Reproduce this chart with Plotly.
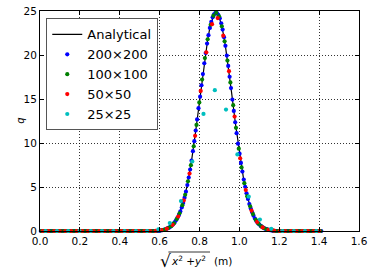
import plotly.graph_objects as go

# ---------------- data ----------------
analytical_x = [0.0, 0.56, 0.58, 0.60, 0.62, 0.64, 0.66, 0.68, 0.70, 0.72, 0.74, 0.76,
                0.78, 0.80, 0.82, 0.83, 0.84, 0.85, 0.86, 0.87, 0.88, 0.89, 0.90, 0.91,
                0.92, 0.93, 0.94, 0.95, 0.96, 0.98, 1.00, 1.02, 1.04, 1.06, 1.08, 1.10,
                1.12, 1.14, 1.16, 1.18, 1.20, 1.414]
analytical_q = [0, 0, 0.02, 0.06, 0.14, 0.30, 0.59, 1.13, 2.01, 3.38, 5.35, 7.97,
                11.19, 14.79, 18.42, 20.09, 21.59, 22.86, 23.84, 24.49, 24.78, 24.71, 24.27, 23.48,
                22.38, 21.01, 19.44, 17.71, 15.90, 12.25, 8.88, 6.07, 3.90, 2.37, 1.35, 0.73,
                0.37, 0.17, 0.08, 0.03, 0, 0]

r_200 = [0.004, 0.011, 0.018, 0.025, 0.032, 0.039, 0.046, 0.053, 0.060, 0.067,
         0.074, 0.081, 0.088, 0.095, 0.103, 0.110, 0.117, 0.124, 0.131, 0.138,
         0.145, 0.152, 0.159, 0.166, 0.173, 0.180, 0.187, 0.194, 0.202, 0.209,
         0.216, 0.223, 0.230, 0.237, 0.244, 0.251, 0.258, 0.265, 0.272, 0.279,
         0.286, 0.293, 0.301, 0.308, 0.315, 0.322, 0.329, 0.336, 0.343, 0.350,
         0.357, 0.364, 0.371, 0.378, 0.385, 0.392, 0.400, 0.407, 0.414, 0.421,
         0.428, 0.435, 0.442, 0.449, 0.456, 0.463, 0.470, 0.477, 0.484, 0.491,
         0.499, 0.506, 0.513, 0.520, 0.527, 0.534, 0.541, 0.548, 0.555, 0.562,
         0.569, 0.576, 0.583, 0.590, 0.598, 0.605, 0.612, 0.619, 0.626, 0.633,
         0.640, 0.647, 0.654, 0.661, 0.668, 0.675, 0.682, 0.689, 0.697, 0.704,
         0.711, 0.718, 0.725, 0.732, 0.739, 0.746, 0.753, 0.760, 0.767, 0.774,
         0.781, 0.788, 0.795, 0.803, 0.810, 0.817, 0.824, 0.831, 0.838, 0.845,
         0.852, 0.859, 0.866, 0.873, 0.880, 0.887, 0.894, 0.902, 0.909, 0.916,
         0.923, 0.930, 0.937, 0.944, 0.951, 0.958, 0.965, 0.972, 0.979, 0.986,
         0.993, 1.001, 1.008, 1.015, 1.022, 1.029, 1.036, 1.043, 1.050, 1.057,
         1.064, 1.071, 1.078, 1.085, 1.092, 1.100, 1.107, 1.114, 1.121, 1.128,
         1.135, 1.142, 1.149, 1.156, 1.163, 1.170, 1.177, 1.184, 1.191, 1.199,
         1.206, 1.213, 1.220, 1.227, 1.234, 1.241, 1.248, 1.255, 1.262, 1.269,
         1.276, 1.283, 1.291, 1.298, 1.305, 1.312, 1.319, 1.326, 1.333, 1.340,
         1.347, 1.354, 1.361, 1.368, 1.375, 1.382, 1.389, 1.397, 1.404, 1.411]
q_200 = [0, 0, 0, 0, 0, 0, 0, 0, 0, 0,
         0, 0, 0, 0, 0, 0, 0, 0, 0, 0,
         0, 0, 0, 0, 0, 0, 0, 0, 0, 0,
         0, 0, 0, 0, 0, 0, 0, 0, 0, 0,
         0, 0, 0, 0, 0, 0, 0, 0, 0, 0,
         0, 0, 0, 0, 0, 0, 0, 0, 0, 0,
         0, 0, 0, 0, 0, 0, 0, 0, 0, 0,
         0, 0, 0, 0, 0, 0, 0, 0, 0, 0,
         0, 0, 0, 0, 0, 0.07, 0.10, 0.13, 0.17, 0.23,
         0.30, 0.38, 0.49, 0.62, 0.78, 0.98, 1.21, 1.49, 1.83, 2.22,
         2.67, 3.19, 3.79, 4.47, 5.23, 6.07, 6.99, 7.99, 9.07, 10.21,
         11.42, 12.68, 13.96, 15.26, 16.56, 17.83, 19.06, 20.22, 21.30, 22.25,
         23.08, 23.76, 24.28, 24.62, 24.79, 24.76, 24.56, 24.17, 23.61, 22.89,
         22.02, 21.04, 19.94, 18.76, 17.53, 16.24, 14.94, 13.64, 12.36, 11.12,
         9.92, 8.79, 7.74, 6.75, 5.85, 5.03, 4.29, 3.64, 3.06, 2.55,
         2.12, 1.74, 1.42, 1.15, 0.92, 0.74, 0.58, 0.46, 0.36, 0.28,
         0.21, 0.16, 0.12, 0.09, 0.07, 0, 0, 0, 0, 0,
         0, 0, 0, 0, 0, 0, 0, 0, 0, 0,
         0, 0, 0, 0, 0, 0, 0, 0, 0, 0,
         0, 0, 0, 0, 0, 0, 0, 0, 0, 0]

r_100 = [0.007, 0.021, 0.035, 0.049, 0.064, 0.078, 0.092, 0.106, 0.120, 0.134,
         0.148, 0.163, 0.177, 0.191, 0.205, 0.219, 0.233, 0.247, 0.262, 0.276,
         0.290, 0.304, 0.318, 0.332, 0.346, 0.361, 0.375, 0.389, 0.403, 0.417,
         0.431, 0.445, 0.460, 0.474, 0.488, 0.502, 0.516, 0.530, 0.544, 0.559,
         0.573, 0.587, 0.601, 0.615, 0.629, 0.643, 0.658, 0.672, 0.686, 0.700,
         0.714, 0.728, 0.742, 0.757, 0.771, 0.785, 0.799, 0.813, 0.827, 0.841,
         0.856, 0.870, 0.884, 0.898, 0.912, 0.926, 0.940, 0.955, 0.969, 0.983,
         0.997, 1.011, 1.025, 1.039, 1.054, 1.068, 1.082, 1.096, 1.110, 1.124,
         1.138, 1.153, 1.167, 1.181, 1.195, 1.209, 1.223, 1.237, 1.252, 1.266,
         1.280, 1.294, 1.308, 1.322, 1.336, 1.351, 1.365, 1.379, 1.393, 1.407]
q_100 = [0, 0, 0, 0, 0, 0, 0, 0, 0, 0,
         0, 0, 0, 0, 0, 0, 0, 0, 0, 0,
         0, 0, 0, 0, 0, 0, 0, 0, 0, 0,
         0, 0, 0, 0, 0, 0, 0, 0, 0, 0,
         0, 0.03, 0.06, 0.11, 0.20, 0.34, 0.55, 0.87, 1.35, 2.01,
         2.93, 4.12, 5.64, 7.48, 9.63, 12.05, 14.61, 17.21, 19.65, 21.79,
         23.44, 24.47, 24.80, 24.39, 23.26, 21.55, 19.37, 16.88, 14.30, 11.73,
         9.36, 7.23, 5.43, 3.96, 2.80, 1.92, 1.27, 0.83, 0.52, 0.31,
         0.19, 0.11, 0.06, 0, 0, 0, 0, 0, 0, 0,
         0, 0, 0, 0, 0, 0, 0, 0, 0, 0]

r_50 = [0.014, 0.042, 0.071, 0.099, 0.127, 0.156, 0.184, 0.212, 0.240, 0.269,
        0.297, 0.325, 0.354, 0.382, 0.410, 0.438, 0.467, 0.495, 0.523, 0.552,
        0.580, 0.608, 0.636, 0.665, 0.693, 0.721, 0.750, 0.778, 0.806, 0.834,
        0.863, 0.891, 0.919, 0.948, 0.976, 1.004, 1.032, 1.061, 1.089, 1.117,
        1.146, 1.174, 1.202, 1.230, 1.259, 1.287, 1.315, 1.344, 1.372, 1.400]
q_50 = [0, 0, 0, 0, 0, 0, 0, 0, 0, 0,
        0, 0, 0, 0, 0, 0, 0, 0, 0, 0,
        0.02, 0.09, 0.26, 0.70, 1.65, 3.48, 6.52, 10.81, 15.92, 20.3,
        23.5, 24.2, 22.2, 18.16, 13.0, 8.26, 4.65, 2.32, 1.03, 0.41,
        0.14, 0.04, 0, 0, 0, 0, 0, 0, 0, 0]

r_25 = [0.028, 0.085, 0.141, 0.198, 0.255, 0.311, 0.368, 0.424, 0.481, 0.537,
        0.594, 0.651, 0.707, 0.764, 0.820, 0.877, 0.933, 0.990, 1.047, 1.103,
        1.160, 1.216, 1.273, 1.329, 1.386]
q_25 = [0, 0, 0, 0, 0, 0, 0, 0, 0, 0,
        0.2, 0.9, 3.4, 7.9, 13.3, 16.0, 13.8, 8.7, 3.9, 1.3,
        0.25, 0, 0, 0, 0]

series_names = ["200\u00d7200", "100\u00d7100", "50\u00d750", "25\u00d725"]
series_colors = ["#0000ff", "#008000", "#ff0000", "#00bfbf"]

x_ticks = [0.0, 0.2, 0.4, 0.6, 0.8, 1.0, 1.2, 1.4, 1.6]
y_ticks = [0, 5, 10, 15, 20, 25]

# ---------------- figure ----------------
FONT = "DejaVu Sans"
fig = go.Figure()
fig.add_trace(go.Scatter(x=analytical_x, y=analytical_q, mode="lines", name="Analytical",
                         line=dict(color="black", width=1.2), legendgroup="a"))
for name, color, xs, ys, g in zip(series_names, series_colors,
                                  [r_200, r_100, r_50, r_25], [q_200, q_100, q_50, q_25],
                                  ["b", "c", "d", "e"]):
    fig.add_trace(go.Scatter(x=xs, y=ys, mode="markers", name=name, legendgroup=g,
                             marker=dict(color=color, size=4.2, line=dict(width=0)),
                             cliponaxis=False))

axis_common = dict(showline=True, linecolor="black", linewidth=1, mirror="allticks",
                   ticks="inside", ticklen=4, tickcolor="black", tickwidth=1,
                   showgrid=True, gridcolor="rgba(0,0,0,0.8)", gridwidth=0.6,
                   griddash="1px,2px", automargin=False,
                   zeroline=False, tickfont=dict(family=FONT, size=10.5, color="black"))
fig.update_xaxes(range=[0, 1.6], tickvals=x_ticks, tickformat=".1f", **axis_common)
fig.update_yaxes(range=[0, 25], tickvals=y_ticks, **axis_common)

fig.update_layout(
    width=374, height=276, plot_bgcolor="white", paper_bgcolor="white",
    margin=dict(l=40, r=15, t=11, b=45, autoexpand=False),
    showlegend=True,
    legend=dict(x=0.019, y=0.967, xanchor="left", yanchor="top",
                bgcolor="white", bordercolor="#555555", borderwidth=1.2,
                font=dict(family=FONT, size=13, color="black"),
                tracegroupgap=0, traceorder="normal"),
    font=dict(family=FONT, color="black"),
    annotations=[
        dict(text="<i>q</i>", xref="paper", yref="paper", x=-0.087, y=0.5,
             textangle=-90, showarrow=False, font=dict(family=FONT, size=10)),
        dict(text="\u221a", xref="paper", yref="paper", x=0.394, y=-0.137,
             xanchor="center", yanchor="middle", showarrow=False,
             font=dict(family=FONT, size=17)),
        dict(text="<i>x</i><sup>2</sup> +<i>y</i><sup>2</sup>", xref="paper", yref="paper",
             x=0.405, y=-0.135, xanchor="left", yanchor="middle", showarrow=False,
             font=dict(family=FONT, size=10.5)),
        dict(text="(m)", xref="paper", yref="paper", x=0.540, y=-0.135,
             xanchor="left", yanchor="middle", showarrow=False,
             font=dict(family=FONT, size=10.5)),
    ],
    shapes=[dict(type="line", xref="paper", yref="paper", x0=0.4025, x1=0.533,
                 y0=-0.0955, y1=-0.0955, line=dict(color="black", width=0.8))],
)

fig.write_html("out.html", config={"displayModeBar": False},
               post_script="document.body.style.margin='0';document.body.style.padding='0';")
